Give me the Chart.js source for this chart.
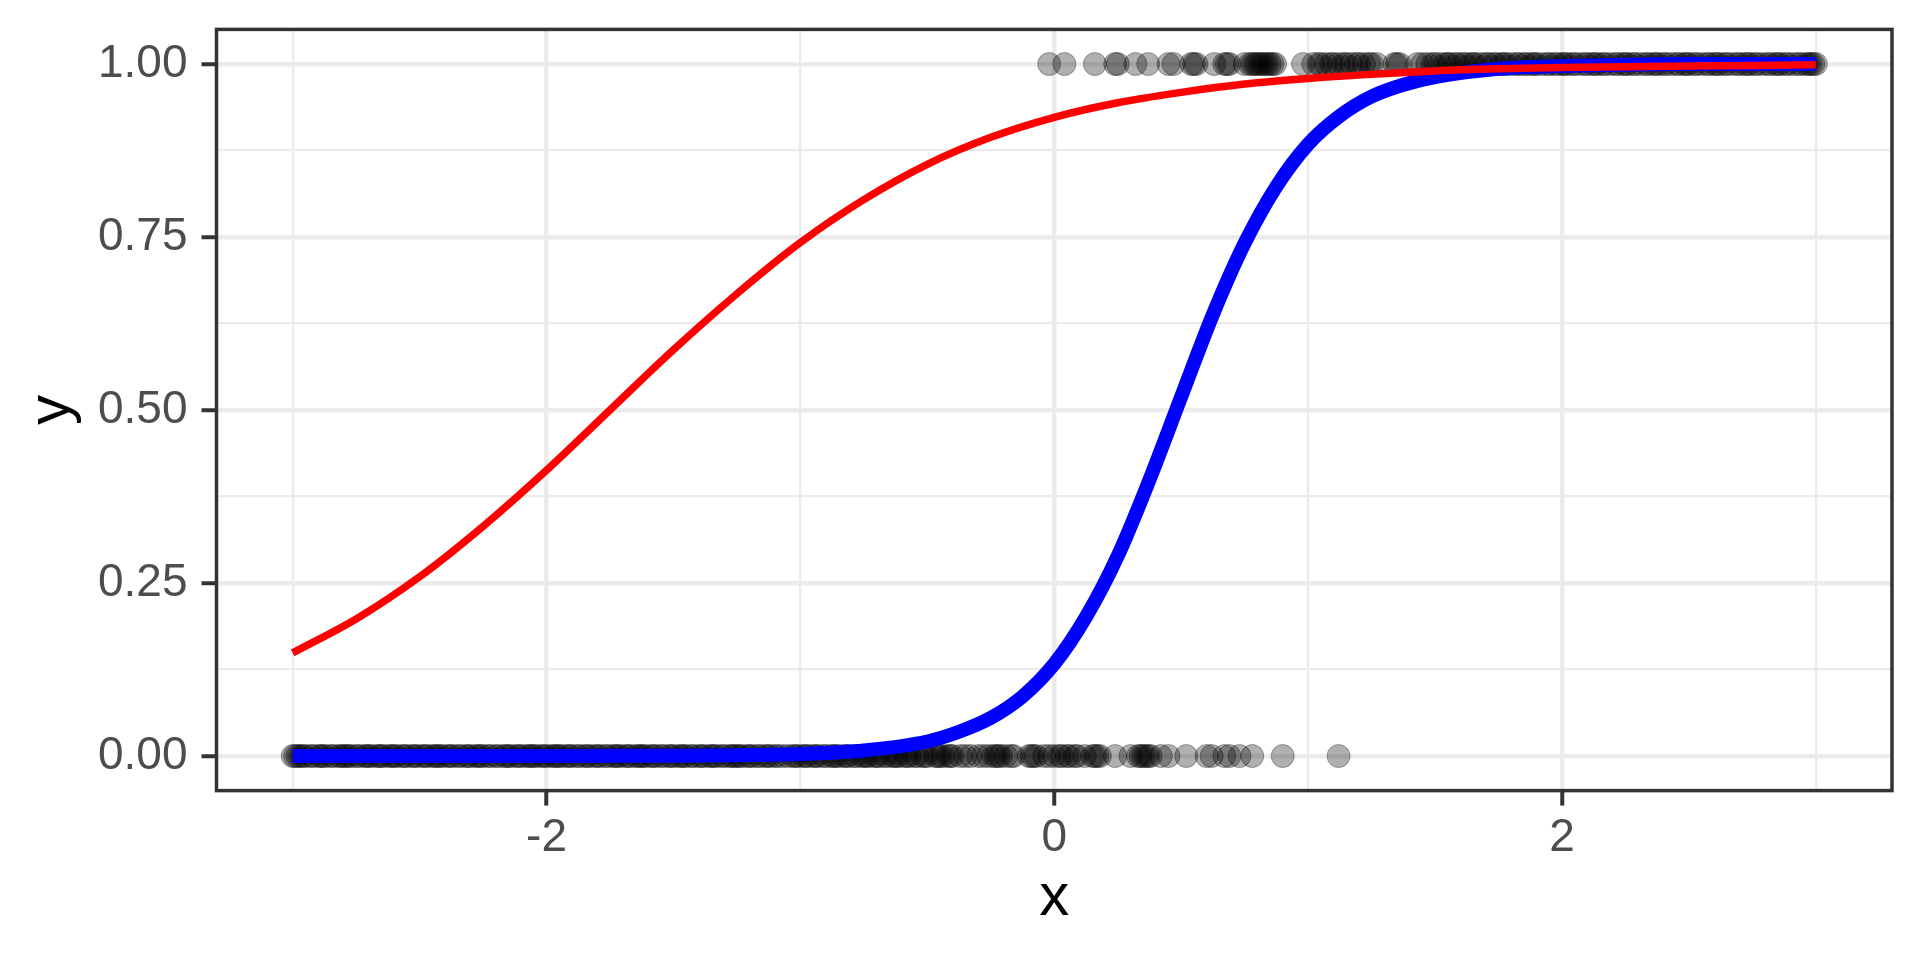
<!DOCTYPE html>
<html lang="en">
<head>
  <meta charset="UTF-8" />
  <title>Logistic fits</title>
  <script src="https://cdn.jsdelivr.net/npm/chart.js"></script>
  <style>
    html, body {
      margin: 0;
      padding: 0;
      background: #fff;
      overflow: hidden;
    }
    #wrap {
      width: 1920px;
      height: 960px;
      position: relative;
    }
  </style>
</head>
<body>
  <div id="wrap"><canvas id="fitChart"></canvas></div>

  <script>
    // observed x where y = 0
    const zeroX = [
      -3.00,-2.98,-2.97,-2.95,-2.93,-2.90,-2.88,-2.87,-2.85,-2.82,-2.80,-2.79,-2.77,-2.75,-2.71,-2.69,
      -2.67,-2.66,-2.64,-2.61,-2.59,-2.57,-2.56,-2.53,-2.51,-2.49,-2.47,-2.44,-2.42,-2.41,-2.39,-2.37,
      -2.35,-2.32,-2.30,-2.28,-2.26,-2.25,-2.23,-2.19,-2.17,-2.15,-2.14,-2.12,-2.10,-2.07,-2.05,-2.04,
      -2.02,-2.00,-1.97,-1.95,-1.94,-1.92,-1.90,-1.88,-1.85,-1.83,-1.81,-1.80,-1.76,-1.74,-1.72,-1.71,
      -1.69,-1.67,-1.64,-1.62,-1.61,-1.59,-1.57,-1.55,-1.52,-1.50,-1.48,-1.47,-1.45,-1.43,-1.40,-1.38,
      -1.36,-1.35,-1.33,-1.31,-1.28,-1.26,-1.24,-1.23,-1.21,-1.19,-1.17,-1.14,-1.12,-1.10,-1.07,-1.03,
      -1.01,-0.99,-0.97,-0.95,-0.93,-0.90,-0.88,-0.86,-0.85,-0.83,-0.81,-0.78,-0.76,-0.74,-0.73,-0.71,
      -0.69,-0.66,-0.64,-0.62,-0.61,-0.59,-0.57,-0.54,-0.52,-0.50,-0.47,-0.45,-0.44,-0.42,-0.40,-0.37,
      -0.33,-0.30,-0.26,-0.24,-0.23,-0.21,-0.19,-0.16,-0.10,-0.09,-0.07,-0.04,0.00,0.03,0.05,0.06,
      0.09,0.12,0.15,0.16,0.18,0.24,0.30,0.33,0.35,0.36,0.38,0.42,0.45,0.52,0.60,0.62,
      0.67,0.69,0.73,0.78,0.90,1.12,
      -2.99,-2.96,-2.92,-2.89,-2.84,-2.81,-2.78,-2.74,-2.72,-2.70,-2.65,-2.62,-2.60,-2.55,-2.52,-2.48,
      -2.45,-2.43,-2.38,-2.34,-2.31,-2.27,-2.22,-2.20,-2.16,-2.11,-2.08,-2.06,-2.01,-1.98,-1.96,-1.91,
      -1.87,-1.84,-1.79,-1.77,-1.73,-1.68,-1.65,-1.63,-1.58,-1.54,-1.51,-1.46,-1.42,-1.39,-1.34,-1.30,
      -1.27,-1.25,-1.20,-1.16,-1.13,-1.09,-1.05,-1.02,-0.98,-0.94,-0.91,-0.87,-0.82,-0.79,-0.75,-0.70,
      -0.67,-0.63,-0.58,-0.55,-0.51,-0.46,-0.41,-0.35,-0.28,-0.22,-0.17,-0.08,-0.02,0.02,0.08,0.17,
      0.34,0.37
    ];

    // observed x where y = 1
    const oneX = [
      -0.02,0.04,0.16,0.24,0.25,0.32,0.37,0.45,0.47,0.54,0.56,0.63,0.67,0.68,0.75,0.77,
      0.79,0.81,0.83,0.85,0.87,0.98,1.02,1.05,1.07,1.09,1.12,1.14,1.17,1.19,1.22,1.25,
      1.27,1.34,1.35,1.43,1.47,1.49,1.52,1.54,1.56,1.59,1.61,1.64,1.66,1.68,1.71,1.73,
      1.76,1.78,1.80,1.83,1.85,1.88,1.90,1.92,1.95,1.97,2.00,2.02,2.04,2.07,2.09,2.12,
      2.14,2.16,2.19,2.21,2.24,2.26,2.28,2.31,2.33,2.36,2.38,2.40,2.43,2.45,2.48,2.50,
      2.52,2.55,2.57,2.60,2.62,2.64,2.67,2.69,2.72,2.74,2.76,2.79,2.81,2.84,2.86,2.88,
      2.91,2.93,2.96,2.98,3.00,
      1.04,1.10,1.15,1.20,1.24,1.36,1.45,1.50,1.55,1.58,1.62,1.65,1.70,1.74,1.77,1.82,
      1.86,1.89,1.94,1.98,2.01,2.05,2.10,2.13,2.17,2.22,2.25,2.29,2.34,2.37,2.41,2.46,
      2.49,2.53,2.58,2.61,2.65,2.70,2.73,2.77,2.82,2.85,2.89,2.94,2.97,2.99,
      0.78,0.80,0.82,0.84,0.86,0.55,0.69
    ];

    // red curve (flat fit)
    const redX = [-3,-2.75,-2.5,-2.25,-2,-1.75,-1.5,-1.25,-1,-0.75,-0.5,-0.25,0,0.25,0.5,0.75,1,1.25,1.5,1.75,2,2.25,2.5,2.75,3];
    const redY = [0.149,0.198,0.259,0.332,0.413,0.500,0.587,0.668,0.742,0.804,0.855,0.894,0.923,0.944,0.959,0.971,0.979,0.985,0.990,0.993,0.995,0.996,0.997,0.998,0.999];

    // blue curve (steep fit)
    const blueX = [-3,-2.75,-2.5,-2.25,-2,-1.75,-1.5,-1.25,-1,-0.75,-0.5,-0.375,-0.25,-0.125,0,0.125,0.25,0.375,0.5,0.625,0.75,0.875,1,1.125,1.25,1.375,1.5,1.75,2,2.25,2.5,2.75,3];
    const blueY = [0.000,0.000,0.000,0.000,0.0001,0.0002,0.0004,0.0012,0.003,0.008,0.021,0.035,0.055,0.086,0.133,0.201,0.289,0.399,0.519,0.638,0.741,0.823,0.884,0.925,0.953,0.970,0.981,0.993,0.997,0.999,1.000,1.000,1.000];

    const xTickVals = [-3,-2,-1,0,1,2,3];
    const xTickLabels = ['', '-2', '', '0', '', '2', ''];
    const yTickVals = [0,0.125,0.25,0.375,0.5,0.625,0.75,0.875,1];
    const yTickLabels = ['0.00','','0.25','','0.50','','0.75','','1.00'];

    const tickFont = { family: "'Liberation Sans', Arial, sans-serif", size: 46 };
    const titleFont = { family: "'Liberation Sans', Arial, sans-serif", size: 60, lineHeight: 1.2 };

    const pointFill = 'rgba(0,0,0,0.31)';

    // panel border like theme_bw
    const panelBorder = {
      id: 'panelBorder',
      afterDatasetsDraw(chart) {
        const a = chart.chartArea;
        const c = chart.ctx;
        c.save();
        c.strokeStyle = '#333333';
        c.lineWidth = 3.5;
        c.strokeRect(a.left, a.top, a.right - a.left, a.bottom - a.top);
        c.restore();
      }
    };

    const isMajorX = v => Math.abs(v) % 2 === 0;
    const isMajorY = v => Math.abs(v * 4 - Math.round(v * 4)) < 1e-6;

    new Chart(document.getElementById('fitChart').getContext('2d'), {
      type: 'scatter',
      data: {
        datasets: [
          {
            label: 'red fit',
            type: 'line',
            data: redX.map((x, i) => ({ x, y: redY[i] })),
            borderColor: '#FF0000',
            borderWidth: 7.5,
            pointRadius: 0,
            cubicInterpolationMode: 'monotone',
            fill: false,
            order: 0
          },
          {
            label: 'blue fit',
            type: 'line',
            data: blueX.map((x, i) => ({ x, y: blueY[i] })),
            borderColor: '#0000FF',
            borderWidth: 14,
            pointRadius: 0,
            cubicInterpolationMode: 'monotone',
            fill: false,
            order: 1
          },
          {
            label: 'y = 1',
            data: oneX.map(x => ({ x, y: 1 })),
            backgroundColor: pointFill,
            borderColor: pointFill,
            borderWidth: 1,
            pointRadius: 11.5,
            order: 2
          },
          {
            label: 'y = 0',
            data: zeroX.map(x => ({ x, y: 0 })),
            backgroundColor: pointFill,
            borderColor: pointFill,
            borderWidth: 1,
            pointRadius: 11.5,
            order: 3
          }
        ]
      },
      options: {
        responsive: true,
        maintainAspectRatio: false,
        animation: false,
        layout: { padding: { top: 29.4, right: 28, left: 0, bottom: 0 } },
        plugins: {
          legend: { display: false },
          tooltip: { enabled: false }
        },
        scales: {
          x: {
            type: 'linear',
            min: -3.3,
            max: 3.3,
            afterBuildTicks: s => { s.ticks = xTickVals.map(v => ({ value: v })); },
            afterFit: s => { s.height = 169.4; s.paddingLeft = 0; s.paddingRight = 0; },
            border: { display: false },
            grid: {
              color: '#EBEBEB',
              lineWidth: c => isMajorX(c.tick.value) ? 4.5 : 2.2,
              tickColor: c => isMajorX(c.tick.value) ? '#333333' : 'rgba(0,0,0,0)',
              tickWidth: 4,
              tickLength: 15
            },
            ticks: {
              autoSkip: false,
              maxRotation: 0,
              color: '#4D4D4D',
              font: tickFont,
              padding: 5,
              callback: (v, i) => xTickLabels[i]
            },
            title: {
              display: true,
              text: 'x',
              color: '#000000',
              font: titleFont,
              padding: { top: 0, bottom: 26 }
            }
          },
          y: {
            type: 'linear',
            min: -0.05,
            max: 1.05,
            afterBuildTicks: s => { s.ticks = yTickVals.map(v => ({ value: v })); },
            afterFit: s => { s.width = 216.5; s.paddingTop = 0; s.paddingBottom = 0; },
            border: { display: false },
            grid: {
              color: '#EBEBEB',
              lineWidth: c => isMajorY(c.tick.value) ? 4.5 : 2.2,
              tickColor: c => isMajorY(c.tick.value) ? '#333333' : 'rgba(0,0,0,0)',
              tickWidth: 4,
              tickLength: 15
            },
            ticks: {
              autoSkip: false,
              color: '#4D4D4D',
              font: tickFont,
              padding: 14,
              callback: (v, i) => yTickLabels[i]
            },
            title: {
              display: true,
              text: 'y',
              color: '#000000',
              font: titleFont,
              padding: { top: 16, bottom: 0 }
            }
          }
        }
      },
      plugins: [panelBorder]
    });
  </script>
</body>
</html>
